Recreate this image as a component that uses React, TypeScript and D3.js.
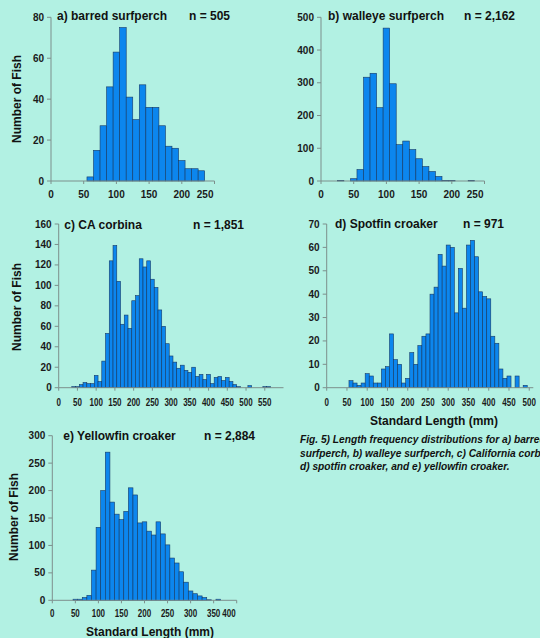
import React, { useEffect } from 'react';
import * as d3 from 'd3';

// a) barred surfperch, 10 mm bins (bin centre in mm)
const barredLengths = [60, 70, 80, 90, 100, 110, 120, 130, 140, 150, 160, 170, 180, 190, 200, 210, 220, 230];
const barredCounts = [2, 15, 27, 46, 63, 75, 41, 30, 47, 36, 36, 27, 17, 16, 10, 6, 6, 5];

// b) walleye surfperch
const walleyeLengths = [30, 50, 60, 70, 80, 90, 100, 110, 120, 130, 140, 150, 160, 170, 180, 190, 200, 230];
const walleyeCounts = [1, 7, 35, 317, 329, 224, 467, 297, 111, 122, 96, 68, 44, 29, 14, 2, 1, 1];

// c) CA corbina
const corbinaLengths = [40, 50, 60, 70, 80, 90, 100, 110, 120, 130, 140, 150, 160, 170, 180, 190, 200, 210, 220, 230,
  240, 250, 260, 270, 280, 290, 300, 310, 320, 330, 340, 350, 360, 370, 380, 390, 400, 410, 420, 430,
  440, 450, 460, 470, 480, 510, 550, 560];
const corbinaCounts = [1, 1, 3, 5, 4, 4, 12, 6, 26, 53, 124, 139, 104, 62, 71, 58, 85, 90, 126, 118,
  124, 106, 98, 76, 60, 43, 31, 25, 19, 22, 17, 15, 20, 11, 13, 8, 13, 4, 10, 11,
  7, 10, 6, 3, 1, 2, 1, 1];

// d) spotfin croaker
const spotfinLengths = [60, 70, 80, 90, 100, 110, 120, 130, 140, 150, 160, 170, 180, 190, 200, 210, 220, 230, 240, 250,
  260, 270, 280, 290, 300, 310, 320, 330, 340, 350, 360, 370, 380, 390, 400, 410, 420, 430, 440, 450, 470, 490];
const spotfinCounts = [3, 2, 1, 2, 6, 5, 2, 2, 8, 9, 23, 12, 10, 2, 4, 15, 10, 18, 22, 23,
  40, 43, 57, 52, 61, 60, 32, 51, 34, 61, 63, 56, 41, 39, 38, 22, 19, 8, 4, 5, 5, 1];

// e) yellowfin croaker
const yellowfinLengths = [50, 60, 70, 80, 90, 100, 110, 120, 130, 140, 150, 160, 170, 180, 190, 200, 210, 220, 230, 240,
  250, 260, 270, 280, 290, 300, 310, 320, 330, 340, 360];
const yellowfinCounts = [2, 2, 5, 9, 55, 133, 200, 270, 179, 157, 147, 162, 205, 192, 141, 143, 126, 119, 143, 121,
  101, 77, 68, 52, 33, 17, 12, 8, 5, 1, 2];

const ticksA = [0, 20, 40, 60, 80];
const ticksB = [0, 100, 200, 300, 400, 500];
const ticksC = [0, 20, 40, 60, 80, 100, 120, 140, 160];
const ticksD = [0, 10, 20, 30, 40, 50, 60, 70];
const ticksE = [0, 50, 100, 150, 200, 250, 300];
const lenTicks250 = [0, 50, 100, 150, 200, 250];
const lenTicks550 = [0, 50, 100, 150, 200, 250, 300, 350, 400, 450, 500, 550];
const lenTicks500 = [0, 50, 100, 150, 200, 250, 300, 350, 400, 450, 500];
const lenTicks400 = [0, 50, 100, 150, 200, 250, 300, 350, 400];

const captionLines = [
  'Fig. 5) Length frequency distributions for a) barred',
  'surfperch, b) walleye surfperch, c) California corbina,',
  'd) spotfin croaker, and e) yellowfin croaker.',
];

const BIN = 10;
const font = 'Arial, "Liberation Sans", sans-serif';

type Panel = {
  title: string; n: string;
  lengths: number[]; counts: number[];
  yTicks: number[]; xTicks: number[]; xMax: number;
  left: number; right: number; bottom: number; top: number;
  titleX: number; titleY: number; nX: number; xLabelY: number;
  yTitle?: [number, number]; xTitle?: [number, number]; endLast?: boolean;
  narrow?: boolean; // x tick labels squeezed like the original
};

const panels: Panel[] = [
  { title: 'a) barred surfperch', n: 'n = 505', lengths: barredLengths, counts: barredCounts,
    yTicks: ticksA, xTicks: lenTicks250, xMax: 250, left: 51, right: 214.5, bottom: 181, top: 17.3,
    titleX: 57, titleY: 20, nX: 189, xLabelY: 198, yTitle: [17, 99], endLast: true },
  { title: 'b) walleye surfperch', n: 'n = 2,162', lengths: walleyeLengths, counts: walleyeCounts,
    yTicks: ticksB, xTicks: lenTicks250, xMax: 250, left: 321, right: 484.5, bottom: 181, top: 17.3,
    titleX: 328, titleY: 20, nX: 464, xLabelY: 198, endLast: true },
  { title: 'c) CA corbina', n: 'n = 1,851', lengths: corbinaLengths, counts: corbinaCounts,
    yTicks: ticksC, xTicks: lenTicks550, xMax: 600, left: 58.7, right: 283.5, bottom: 387.7, top: 224,
    titleX: 64.3, titleY: 228.7, nX: 193, xLabelY: 405.5, yTitle: [17, 307], narrow: true },
  { title: 'd) Spotfin croaker', n: 'n = 971', lengths: spotfinLengths, counts: spotfinCounts,
    yTicks: ticksD, xTicks: lenTicks500, xMax: 510, left: 326.7, right: 533.3, bottom: 387.7, top: 224,
    titleX: 335, titleY: 228, nX: 463, xLabelY: 405.5, xTitle: [434, 425], narrow: true },
  { title: 'e) Yellowfin croaker', n: 'n = 2,884', lengths: yellowfinLengths, counts: yellowfinCounts,
    yTicks: ticksE, xTicks: lenTicks400, xMax: 400, left: 52.3, right: 236.7, bottom: 600.3, top: 435.7,
    titleX: 63.3, titleY: 440, nX: 204, xLabelY: 616.5, yTitle: [13.3, 517], xTitle: [150, 636],
    endLast: true, narrow: true },
];

function Histogram({ p }: { p: Panel }) {
  const x = d3.scaleLinear().domain([0, p.xMax]).range([p.left, p.right]);
  const yMax = p.yTicks[p.yTicks.length - 1];
  const y = d3.scaleLinear().domain([0, yMax]).range([p.bottom, p.top]);
  const axisColor = '#7d8f8c';
  return (
    <g fontFamily={font} fontWeight="bold">
      {p.lengths.map((len, i) => (
        <rect key={len} x={x(len - BIN / 2)} y={y(p.counts[i])}
          width={x(len + BIN / 2) - x(len - BIN / 2)} height={y(0) - y(p.counts[i])}
          fill="#0c86ee" stroke="#163a66" strokeWidth={0.6} />
      ))}
      <line x1={p.left} x2={p.left} y1={y(yMax)} y2={p.bottom} stroke={axisColor} />
      <line x1={p.left} x2={p.right} y1={p.bottom} y2={p.bottom} stroke={axisColor} />
      {p.yTicks.map(t => (
        <g key={'y' + t}>
          <line x1={p.left - 4} x2={p.left} y1={y(t)} y2={y(t)} stroke={axisColor} />
          <text x={p.left - 7} y={y(t)} dy="0.35em" textAnchor="end" fontSize={10} fill="#1a1a1a">{t}</text>
        </g>
      ))}
      {p.xTicks.map((t, i) => {
        const last = p.endLast && i === p.xTicks.length - 1;
        const label = String(t);
        const squeeze = p.narrow ? { textLength: label.length * 4.45, lengthAdjust: 'spacingAndGlyphs' } : {};
        return (
          <g key={'x' + t}>
            <line x1={x(t)} x2={x(t)} y1={p.bottom} y2={p.bottom + 3} stroke={axisColor} />
            <text x={last ? x(t) - 1 : x(t)} y={p.xLabelY} textAnchor={last ? 'end' : 'middle'}
              fontSize={10} fill="#1a1a1a" {...squeeze}>{label}</text>
          </g>
        );
      })}
      <text x={p.titleX} y={p.titleY} fontSize={12} fill="#111">{p.title}</text>
      <text x={p.nX} y={p.titleY} fontSize={12} fill="#111">{p.n}</text>
      {p.yTitle && (
        <text transform={`translate(${p.yTitle[0]},${p.yTitle[1]}) rotate(-90)`} dy="0.35em"
          textAnchor="middle" fontSize={12} fill="#111">Number of Fish</text>
      )}
      {p.xTitle && (
        <text x={p.xTitle[0]} y={p.xTitle[1]} textAnchor="middle" fontSize={12} fill="#111">Standard Length (mm)</text>
      )}
    </g>
  );
}

export default function App() {
  useEffect(() => {
    document.body.style.margin = '0';
  }, []);

  return (
    <svg width={540} height={638} style={{ display: 'block', position: 'absolute', left: 0, top: 0 }}>
      <rect width={540} height={638} fill="#b2f1e3" />
      {panels.map(p => <Histogram key={p.title} p={p} />)}
      <g fontFamily={font} fontWeight="bold" fontStyle="italic" fontSize={10.2} fill="#111">
        {captionLines.map((line, i) => (
          <text key={i} x={300} y={443 + i * 13.5}>{line}</text>
        ))}
      </g>
    </svg>
  );
}
